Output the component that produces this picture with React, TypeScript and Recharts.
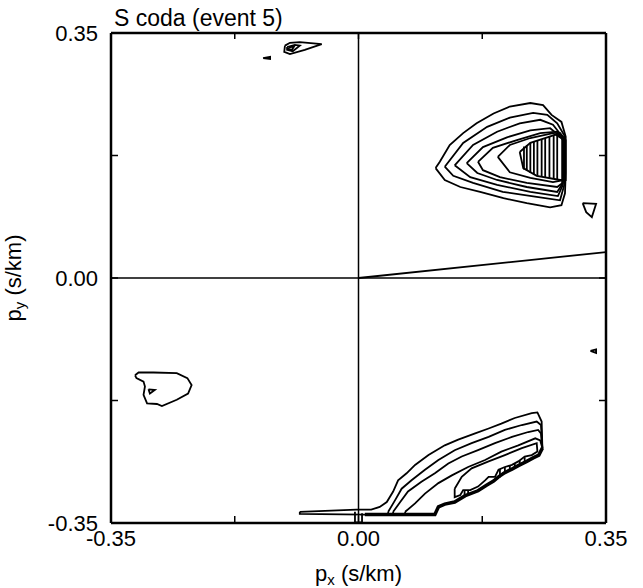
import React from 'react';
import { ScatterChart, Scatter, XAxis, YAxis, ReferenceLine } from 'recharts';

type Pt = [number, number];

const FONT = 'Liberation Sans, Arial, Helvetica, sans-serif';
const ticks = [-0.35, -0.175, 0, 0.175, 0.35];
const labeledTicks = [-0.35, 0, 0.35];

// upper right group (outer -> inner), px / py in s/km
const ringA1: Pt[] = [
  [0.109, 0.157], [0.115, 0.166], [0.129, 0.19], [0.148, 0.207], [0.167, 0.221], [0.191, 0.235],
  [0.214, 0.245], [0.243, 0.25], [0.261, 0.247], [0.273, 0.233], [0.287, 0.223], [0.293, 0.202],
  [0.293, 0.15], [0.292, 0.121], [0.287, 0.104], [0.271, 0.101], [0.238, 0.107], [0.205, 0.114],
  [0.172, 0.123], [0.144, 0.13], [0.122, 0.14], [0.109, 0.157],
];
const ringA2: Pt[] = [
  [0.122, 0.159], [0.148, 0.193], [0.182, 0.216], [0.214, 0.229], [0.247, 0.236], [0.267, 0.233],
  [0.281, 0.221], [0.291, 0.204], [0.291, 0.133], [0.285, 0.111], [0.252, 0.116], [0.204, 0.123],
  [0.162, 0.136], [0.134, 0.146], [0.122, 0.159],
];
const ringA3: Pt[] = [
  [0.136, 0.161], [0.162, 0.19], [0.196, 0.209], [0.228, 0.221], [0.257, 0.226], [0.275, 0.219],
  [0.289, 0.201], [0.289, 0.133], [0.282, 0.117], [0.243, 0.123], [0.196, 0.133], [0.158, 0.144],
  [0.136, 0.161],
];
const ringA4: Pt[] = [
  [0.153, 0.164], [0.176, 0.187], [0.21, 0.201], [0.243, 0.211], [0.271, 0.214], [0.288, 0.2],
  [0.288, 0.134], [0.281, 0.123], [0.238, 0.13], [0.196, 0.14], [0.168, 0.15], [0.153, 0.164],
];
const ringA5: Pt[] = [
  [0.169, 0.166], [0.19, 0.186], [0.224, 0.197], [0.257, 0.207], [0.281, 0.209], [0.289, 0.197],
  [0.289, 0.136], [0.281, 0.13], [0.238, 0.136], [0.2, 0.144], [0.176, 0.154], [0.169, 0.166],
];
const ringA6: Pt[] = [
  [0.197, 0.173], [0.214, 0.19], [0.243, 0.2], [0.275, 0.207], [0.291, 0.197], [0.291, 0.14],
  [0.275, 0.137], [0.243, 0.143], [0.214, 0.151], [0.197, 0.173],
];
const ringA7: Pt[] = [
  [0.228, 0.18], [0.243, 0.193], [0.267, 0.201], [0.285, 0.207], [0.293, 0.197], [0.293, 0.14],
  [0.285, 0.14], [0.252, 0.146], [0.233, 0.157], [0.228, 0.18],
];
// packed contours near the peak: [px, py bottom, py top]
const hatchUpper: [number, number, number][] = [
  [0.234, 0.155, 0.188], [0.238, 0.153, 0.19], [0.243, 0.15, 0.193], [0.248, 0.148, 0.195],
  [0.253, 0.146, 0.196], [0.259, 0.145, 0.198], [0.264, 0.144, 0.2], [0.27, 0.143, 0.202],
  [0.276, 0.142, 0.204], [0.281, 0.141, 0.205],
];
const triA: Pt[] = [[0.317, 0.107], [0.336, 0.106], [0.33, 0.087], [0.322, 0.094], [0.317, 0.107]];
const ray: Pt[] = [[0, 0], [0.35, 0.037]];
const dotR: Pt[] = [[0.328, -0.104], [0.336, -0.102], [0.336, -0.107], [0.328, -0.104]];

// upper left
const arrowUL: Pt[] = [
  [-0.104, 0.332], [-0.097, 0.336], [-0.083, 0.337], [-0.052, 0.334], [-0.076, 0.326],
  [-0.097, 0.32], [-0.105, 0.323], [-0.104, 0.332],
];
const arrowULIn: Pt[] = [[-0.101, 0.33], [-0.09, 0.333], [-0.083, 0.332], [-0.093, 0.324], [-0.101, 0.326], [-0.101, 0.33]];
const arrowULCore: Pt[] = [[-0.099, 0.329], [-0.091, 0.331], [-0.094, 0.326], [-0.099, 0.327], [-0.099, 0.329]];
const dashUL: Pt[] = [[-0.135, 0.314], [-0.125, 0.316], [-0.125, 0.313], [-0.135, 0.314]];

// lower left
const blobLL: Pt[] = [
  [-0.316, -0.139], [-0.311, -0.135], [-0.29, -0.135], [-0.257, -0.136], [-0.242, -0.143],
  [-0.236, -0.153], [-0.241, -0.165], [-0.257, -0.174], [-0.278, -0.183], [-0.285, -0.18],
  [-0.299, -0.179], [-0.304, -0.167], [-0.302, -0.155], [-0.304, -0.148], [-0.314, -0.143],
  [-0.316, -0.139],
];
const triLL: Pt[] = [[-0.297, -0.159], [-0.288, -0.16], [-0.295, -0.165], [-0.297, -0.159]];

// lower right group: upper edges of the contours
const lrEdge1: Pt[] = [
  [-0.083, -0.334], [-0.003, -0.331], [0.018, -0.331], [0.03, -0.327], [0.04, -0.32], [0.049, -0.305],
  [0.056, -0.289], [0.068, -0.279], [0.08, -0.267], [0.099, -0.253], [0.122, -0.239], [0.141, -0.231],
  [0.165, -0.222], [0.184, -0.215], [0.202, -0.208], [0.221, -0.2], [0.245, -0.193], [0.253, -0.192],
  [0.259, -0.205],
];
const lrEdge2: Pt[] = [
  [0.042, -0.334], [0.052, -0.317], [0.061, -0.301], [0.075, -0.289], [0.094, -0.274], [0.113, -0.26],
  [0.136, -0.246], [0.16, -0.236], [0.184, -0.227], [0.207, -0.217], [0.231, -0.21], [0.252, -0.205],
  [0.258, -0.21],
];
const lrEdge3: Pt[] = [
  [0.049, -0.334], [0.059, -0.32], [0.07, -0.305], [0.089, -0.291], [0.108, -0.279], [0.127, -0.265],
  [0.146, -0.255], [0.169, -0.246], [0.193, -0.236], [0.217, -0.227], [0.24, -0.22], [0.254, -0.217],
  [0.258, -0.222],
];
const lrEdge4: Pt[] = [
  [0.066, -0.334], [0.08, -0.322], [0.094, -0.308], [0.113, -0.293], [0.132, -0.282], [0.155, -0.27],
  [0.179, -0.26], [0.202, -0.248], [0.226, -0.239], [0.25, -0.229], [0.257, -0.232],
];
// shared stepped lower boundary, right to left
const lrBase: Pt[] = [
  [0.26, -0.243], [0.255, -0.253], [0.247, -0.257], [0.238, -0.262], [0.226, -0.268], [0.217, -0.273],
  [0.207, -0.278], [0.198, -0.284], [0.191, -0.29], [0.181, -0.296], [0.169, -0.304], [0.151, -0.311],
  [0.136, -0.32], [0.122, -0.323], [0.113, -0.327], [0.108, -0.338], [0.009, -0.338],
];
const lrInner: Pt[] = [
  [0.136, -0.301], [0.146, -0.284], [0.16, -0.272], [0.184, -0.262], [0.207, -0.253], [0.231, -0.243],
  [0.252, -0.236], [0.253, -0.248], [0.245, -0.253], [0.235, -0.255], [0.226, -0.262], [0.217, -0.267],
  [0.207, -0.27], [0.198, -0.274], [0.193, -0.284], [0.184, -0.284], [0.179, -0.289], [0.169, -0.298],
  [0.158, -0.303], [0.148, -0.303], [0.144, -0.31], [0.136, -0.313], [0.136, -0.301],
];
const hatchLower: [number, number, number][] = [
  [0.2, -0.285, -0.273], [0.207, -0.279, -0.27], [0.214, -0.275, -0.268], [0.221, -0.271, -0.265],
  [0.228, -0.267, -0.261], [0.235, -0.264, -0.256], [0.15, -0.31, -0.303], [0.155, -0.308, -0.303],
];
const stubLR: Pt[] = [[-0.005, -0.334], [-0.005, -0.349], [0.005, -0.349], [0.005, -0.336]];

const closeOnBase = (edge: Pt[]): Pt[] => {
  const x0 = edge[0][0];
  const bottom = lrBase.filter(([x]) => x > x0);
  return [...edge, ...bottom, [x0, -0.337], edge[0]];
};

const thinRings: Pt[][] = [
  ringA1, ringA2, ringA3, ringA4, ringA5, ringA6, ringA7, triA, dotR,
  arrowUL, arrowULIn, arrowULCore, dashUL, blobLL, triLL,
  closeOnBase(lrEdge1), closeOnBase(lrEdge2), closeOnBase(lrEdge3), closeOnBase(lrEdge4),
  lrInner, stubLR,
  ...hatchUpper.map(([x, y0, y1]) => [[x, y0], [x, y1]] as Pt[]),
  ...hatchLower.map(([x, y0, y1]) => [[x, y0], [x, y1]] as Pt[]),
];

const toXY = (ring: Pt[]) => ring.map(([x, y]) => ({ x, y }));
const noDot = () => <g />;
const frame = { stroke: '#000', strokeWidth: 2.5 };
const contour = { stroke: '#000', strokeWidth: 1.8 };

const BottomTick = ({ x, y, payload }: any) => (
  <g>
    <line x1={x} y1={y} x2={x} y2={y - 7} stroke="#000" strokeWidth={1.5} />
    {labeledTicks.includes(payload.value) && (
      <text x={x} y={y + 23} textAnchor="middle" fontSize={22} fontFamily={FONT} fill="#000">
        {payload.value.toFixed(2)}
      </text>
    )}
  </g>
);
const LeftTick = ({ x, y, payload }: any) => (
  <g>
    <line x1={x} y1={y} x2={x + 7} y2={y} stroke="#000" strokeWidth={1.5} />
    {labeledTicks.includes(payload.value) && (
      <text x={x - 13} y={y + 8} textAnchor="end" fontSize={22} fontFamily={FONT} fill="#000">
        {payload.value.toFixed(2)}
      </text>
    )}
  </g>
);
const TopTick = ({ x, y }: any) => <line x1={x} y1={y} x2={x} y2={y + 6} stroke="#000" strokeWidth={1.5} />;
const RightTick = ({ x, y }: any) => <line x1={x} y1={y} x2={x - 7} y2={y} stroke="#000" strokeWidth={1.5} />;

const XTitle = ({ viewBox }: any) => (
  <text x={viewBox.x + viewBox.width / 2} y={viewBox.y + 58} textAnchor="middle" fontSize={22} fontFamily={FONT} fill="#000">
    <tspan>p</tspan>
    <tspan dy={4} fontSize={15}>x</tspan>
    <tspan dy={-4}> (s/km)</tspan>
  </text>
);
const YTitle = ({ viewBox }: any) => {
  const tx = viewBox.x - 30;
  const ty = viewBox.y + viewBox.height / 2;
  return (
    <text x={tx} y={ty} transform={`rotate(-90, ${tx}, ${ty})`} textAnchor="middle" fontSize={22} fontFamily={FONT} fill="#000">
      <tspan>p</tspan>
      <tspan dy={4} fontSize={15}>y</tspan>
      <tspan dy={-4}> (s/km)</tspan>
    </text>
  );
};
const Title = ({ viewBox }: any) => (
  <text x={viewBox.x + 3} y={viewBox.y + viewBox.height - 7.5} fontSize={23} fontFamily={FONT} fill="#000">
    S coda (event 5)
  </text>
);

export default function App() {
  return (
    <div>
      <style>{'body{margin:0}'}</style>
      <ScatterChart width={635} height={588} margin={{ top: 32, right: 28, bottom: 15, left: 51 }}>
        <XAxis type="number" dataKey="x" domain={[-0.35, 0.35]} ticks={ticks} allowDataOverflow
          tick={BottomTick} tickSize={0} tickMargin={0} tickLine={false} axisLine={frame} height={50} label={XTitle} />
        <XAxis xAxisId="top" orientation="top" type="number" dataKey="x" domain={[-0.35, 0.35]} ticks={ticks} allowDataOverflow
          tick={TopTick} tickSize={0} tickMargin={0} tickLine={false} axisLine={frame} height={1} label={Title} />
        <YAxis type="number" dataKey="y" domain={[-0.35, 0.35]} ticks={ticks} allowDataOverflow
          tick={LeftTick} tickSize={0} tickMargin={0} tickLine={false} axisLine={frame} width={60} label={YTitle} />
        <YAxis yAxisId="right" orientation="right" type="number" dataKey="y" domain={[-0.35, 0.35]} ticks={ticks} allowDataOverflow
          tick={RightTick} tickSize={0} tickMargin={0} tickLine={false} axisLine={frame} width={1} />
        <ReferenceLine x={0} stroke="#000" strokeWidth={1.5} />
        <ReferenceLine y={0} stroke="#000" strokeWidth={1.5} />
        {thinRings.map((ring, i) => (
          <Scatter key={i} data={toXY(ring)} line={contour} lineType="joint"
            shape={noDot} fill="none" isAnimationActive={false} />
        ))}
        <Scatter data={toXY(ray)} xAxisId="top" yAxisId="right" line={contour} lineType="joint"
          shape={noDot} fill="none" isAnimationActive={false} />
        <Scatter data={toXY(lrBase)} line={{ stroke: '#000', strokeWidth: 3.5 }} lineType="joint"
          shape={noDot} fill="none" isAnimationActive={false} />
      </ScatterChart>
    </div>
  );
}
